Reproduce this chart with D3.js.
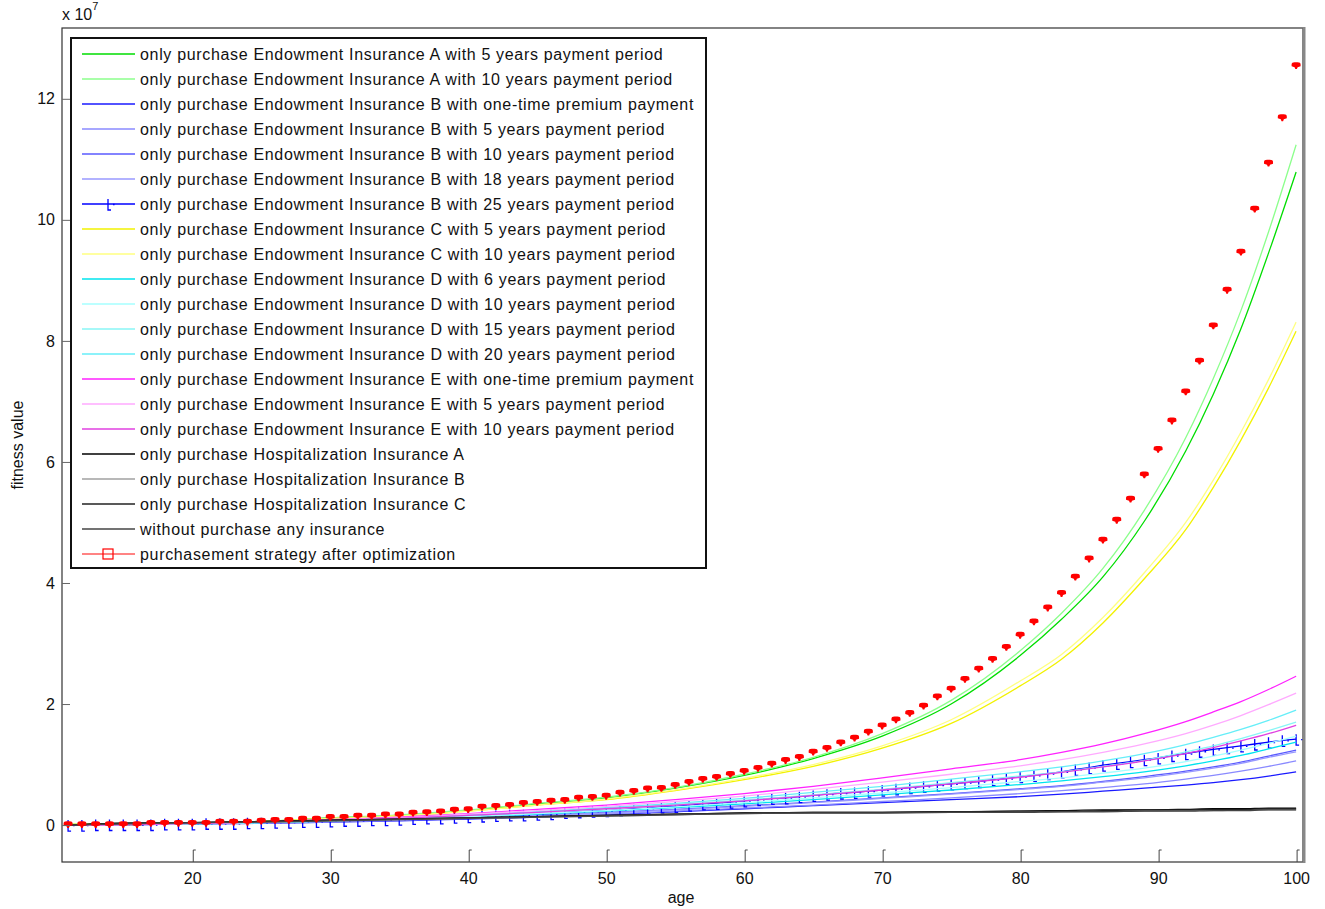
<!DOCTYPE html>
<html>
<head>
<meta charset="utf-8">
<script src="https://cdn.jsdelivr.net/npm/d3@7"></script>
<style>
  body { margin: 0; background: #fff; }
  svg { display: block; }
  text { font-family: Arial, 'Liberation Sans', sans-serif; }
</style>
</head>
<body>
<svg id="chart" width="1325" height="909"></svg>
<script>
// fitness value per age, in units of 1e7

const AGES = [11, 15, 20, 25, 30, 35, 40, 45, 50, 55, 60, 65, 70, 75, 80, 83, 86, 89, 92, 94, 96, 98, 100];
const YEARS = d3.range(11, 101);

const ENDOW_A5  = [0.01, 0.01, 0.03, 0.06, 0.12, 0.16, 0.24, 0.35, 0.45, 0.61, 0.82, 1.10, 1.47, 2.00, 2.80, 3.40, 4.10, 5.02, 6.18, 7.12, 8.20, 9.45, 10.79];
const ENDOW_A10 = [0.01, 0.01, 0.03, 0.06, 0.12, 0.17, 0.25, 0.36, 0.46, 0.62, 0.84, 1.12, 1.51, 2.06, 2.88, 3.50, 4.24, 5.20, 6.40, 7.38, 8.50, 9.80, 11.24];
const ENDOW_B1  = [0.00, 0.01, 0.02, 0.03, 0.05, 0.07, 0.10, 0.13, 0.17, 0.22, 0.27, 0.32, 0.37, 0.42, 0.47, 0.51, 0.56, 0.61, 0.66, 0.70, 0.75, 0.81, 0.88];
const ENDOW_B5  = [0.00, 0.01, 0.02, 0.03, 0.05, 0.08, 0.11, 0.14, 0.18, 0.23, 0.28, 0.33, 0.39, 0.45, 0.52, 0.57, 0.62, 0.68, 0.76, 0.82, 0.89, 0.97, 1.06];
const ENDOW_B10 = [0.00, 0.01, 0.02, 0.04, 0.06, 0.09, 0.12, 0.16, 0.21, 0.26, 0.32, 0.38, 0.45, 0.52, 0.60, 0.65, 0.72, 0.80, 0.89, 0.96, 1.04, 1.14, 1.24];
const ENDOW_B18 = [0.00, 0.01, 0.02, 0.04, 0.06, 0.09, 0.12, 0.16, 0.20, 0.25, 0.31, 0.37, 0.44, 0.51, 0.59, 0.64, 0.71, 0.78, 0.87, 0.94, 1.02, 1.12, 1.21];
const ENDOW_B25 = [0.00, 0.00, 0.01, 0.01, 0.01, 0.01, 0.01, 0.02, 0.02, 0.02, 0.03, 0.03, 0.03, 0.04, 0.04, 0.05, 0.05, 0.06, 0.06, 0.07,
                   0.08, 0.08, 0.09, 0.09, 0.10, 0.11, 0.12, 0.12, 0.13, 0.14, 0.15, 0.16, 0.17, 0.17, 0.18, 0.19, 0.21, 0.22, 0.23, 0.24,
                   0.25, 0.27, 0.28, 0.30, 0.31, 0.33, 0.35, 0.36, 0.38, 0.40, 0.42, 0.44, 0.45, 0.47, 0.49, 0.51, 0.53, 0.54, 0.56, 0.58,
                   0.60, 0.62, 0.64, 0.66, 0.68, 0.70, 0.72, 0.75, 0.77, 0.80, 0.82, 0.85, 0.88, 0.92, 0.95, 0.99, 1.02, 1.05, 1.08, 1.11,
                   1.15, 1.18, 1.22, 1.25, 1.28, 1.31, 1.34, 1.37, 1.40, 1.42];
const ENDOW_C5  = [0.01, 0.01, 0.03, 0.06, 0.11, 0.15, 0.23, 0.33, 0.42, 0.57, 0.75, 0.97, 1.27, 1.68, 2.30, 2.74, 3.34, 4.07, 4.88, 5.58, 6.36, 7.22, 8.16];
const ENDOW_C10 = [0.01, 0.01, 0.03, 0.06, 0.11, 0.15, 0.23, 0.33, 0.43, 0.58, 0.77, 1.00, 1.31, 1.74, 2.38, 2.82, 3.43, 4.17, 5.00, 5.70, 6.49, 7.36, 8.31];
const ENDOW_D6  = [0.00, 0.01, 0.02, 0.04, 0.07, 0.10, 0.14, 0.18, 0.23, 0.29, 0.35, 0.42, 0.50, 0.58, 0.67, 0.73, 0.80, 0.88, 0.98, 1.06, 1.15, 1.26, 1.37];
const ENDOW_D10 = [0.00, 0.01, 0.02, 0.04, 0.07, 0.10, 0.14, 0.19, 0.24, 0.30, 0.37, 0.45, 0.53, 0.62, 0.72, 0.78, 0.86, 0.94, 1.05, 1.14, 1.24, 1.35, 1.47];
const ENDOW_D15 = [0.00, 0.01, 0.03, 0.05, 0.08, 0.11, 0.16, 0.21, 0.27, 0.34, 0.41, 0.50, 0.59, 0.70, 0.81, 0.88, 0.97, 1.07, 1.21, 1.31, 1.43, 1.56, 1.70];
const ENDOW_D20 = [0.00, 0.01, 0.03, 0.05, 0.08, 0.12, 0.17, 0.22, 0.29, 0.36, 0.44, 0.54, 0.64, 0.76, 0.88, 0.96, 1.06, 1.18, 1.33, 1.45, 1.58, 1.73, 1.90];
const ENDOW_E1  = [0.00, 0.01, 0.03, 0.05, 0.09, 0.13, 0.19, 0.26, 0.33, 0.42, 0.52, 0.64, 0.78, 0.93, 1.08, 1.20, 1.34, 1.51, 1.71, 1.87, 2.04, 2.24, 2.46];
const ENDOW_E5  = [0.00, 0.01, 0.03, 0.05, 0.09, 0.12, 0.18, 0.24, 0.31, 0.39, 0.48, 0.59, 0.71, 0.84, 0.98, 1.08, 1.20, 1.34, 1.51, 1.65, 1.81, 1.99, 2.18];
const ENDOW_E10 = [0.00, 0.01, 0.03, 0.05, 0.08, 0.11, 0.16, 0.21, 0.27, 0.33, 0.40, 0.49, 0.58, 0.68, 0.79, 0.87, 0.96, 1.06, 1.18, 1.28, 1.39, 1.51, 1.65];
const HOSP_A    = [0.00, 0.03, 0.04, 0.06, 0.08, 0.10, 0.12, 0.14, 0.16, 0.18, 0.20, 0.21, 0.21, 0.22, 0.23, 0.24, 0.25, 0.25, 0.26, 0.27, 0.27, 0.28, 0.28];
const HOSP_B    = [0.00, 0.02, 0.04, 0.05, 0.07, 0.09, 0.11, 0.13, 0.15, 0.17, 0.19, 0.20, 0.20, 0.21, 0.22, 0.22, 0.23, 0.23, 0.24, 0.24, 0.25, 0.25, 0.25];
const HOSP_C    = [0.00, 0.03, 0.04, 0.06, 0.08, 0.10, 0.12, 0.14, 0.16, 0.18, 0.20, 0.21, 0.21, 0.22, 0.23, 0.23, 0.24, 0.25, 0.25, 0.26, 0.26, 0.27, 0.27];
const NO_INSURE = [0.00, 0.02, 0.04, 0.05, 0.07, 0.09, 0.11, 0.13, 0.15, 0.17, 0.19, 0.20, 0.20, 0.21, 0.21, 0.22, 0.22, 0.23, 0.23, 0.24, 0.24, 0.25, 0.25];

const OPTIMIZED = [0.01, 0.01, 0.01, 0.01, 0.01, 0.01, 0.03, 0.03, 0.03, 0.03, 0.03, 0.05, 0.05, 0.05, 0.07, 0.08, 0.08, 0.10, 0.10, 0.13,
                   0.13, 0.15, 0.15, 0.17, 0.17, 0.20, 0.21, 0.22, 0.25, 0.26, 0.30, 0.31, 0.33, 0.36, 0.38, 0.40, 0.41, 0.45, 0.46, 0.48,
                   0.53, 0.56, 0.60, 0.61, 0.66, 0.71, 0.76, 0.79, 0.84, 0.89, 0.94, 1.01, 1.07, 1.12, 1.21, 1.27, 1.36, 1.44, 1.54, 1.64,
                   1.74, 1.85, 1.97, 2.12, 2.25, 2.41, 2.58, 2.74, 2.94, 3.14, 3.36, 3.59, 3.83, 4.10, 4.40, 4.71, 5.04, 5.39, 5.79, 6.21,
                   6.68, 7.16, 7.67, 8.25, 8.84, 9.47, 10.18, 10.94, 11.69, 12.55];

const X_TICKS = [20, 30, 40, 50, 60, 70, 80, 90, 100];
const Y_TICKS = [0, 2, 4, 6, 8, 10, 12];

const SERIES = [
  { label: 'only purchase Endowment Insurance A with 5 years payment period',   color: '#00dd00', ages: AGES,  values: ENDOW_A5 },
  { label: 'only purchase Endowment Insurance A with 10 years payment period',  color: '#8cff8c', ages: AGES,  values: ENDOW_A10 },
  { label: 'only purchase Endowment Insurance B with one-time premium payment', color: '#1a1aff', ages: AGES,  values: ENDOW_B1 },
  { label: 'only purchase Endowment Insurance B with 5 years payment period',   color: '#8a8aff', ages: AGES,  values: ENDOW_B5 },
  { label: 'only purchase Endowment Insurance B with 10 years payment period',  color: '#5a5aff', ages: AGES,  values: ENDOW_B10 },
  { label: 'only purchase Endowment Insurance B with 18 years payment period',  color: '#9898ff', ages: AGES,  values: ENDOW_B18 },
  { label: 'only purchase Endowment Insurance B with 25 years payment period',  color: '#0000ff', ages: YEARS, values: ENDOW_B25, marker: 'tick' },
  { label: 'only purchase Endowment Insurance C with 5 years payment period',   color: '#f2f200', ages: AGES,  values: ENDOW_C5 },
  { label: 'only purchase Endowment Insurance C with 10 years payment period',  color: '#ffff80', ages: AGES,  values: ENDOW_C10 },
  { label: 'only purchase Endowment Insurance D with 6 years payment period',   color: '#00e4ee', ages: AGES,  values: ENDOW_D6 },
  { label: 'only purchase Endowment Insurance D with 10 years payment period',  color: '#a6ffff', ages: AGES,  values: ENDOW_D10 },
  { label: 'only purchase Endowment Insurance D with 15 years payment period',  color: '#88f6f6', ages: AGES,  values: ENDOW_D15 },
  { label: 'only purchase Endowment Insurance D with 20 years payment period',  color: '#66eef8', ages: AGES,  values: ENDOW_D20 },
  { label: 'only purchase Endowment Insurance E with one-time premium payment', color: '#ff22ff', ages: AGES,  values: ENDOW_E1 },
  { label: 'only purchase Endowment Insurance E with 5 years payment period',   color: '#ffaaff', ages: AGES,  values: ENDOW_E5 },
  { label: 'only purchase Endowment Insurance E with 10 years payment period',  color: '#e040e0', ages: AGES,  values: ENDOW_E10 },
  { label: 'only purchase Hospitalization Insurance A',                         color: '#000000', ages: AGES,  values: HOSP_A },
  { label: 'only purchase Hospitalization Insurance B',                         color: '#a0a0a0', ages: AGES,  values: HOSP_B },
  { label: 'only purchase Hospitalization Insurance C',                         color: '#222222', ages: AGES,  values: HOSP_C },
  { label: 'without purchase any insurance',                                    color: '#444444', ages: AGES,  values: NO_INSURE },
  { label: 'purchasement strategy after optimization',                          color: '#ff0000', ages: YEARS, values: OPTIMIZED, marker: 'blob' },
];

const MARKER_TICK = 'M0,-5V6H3M5,0.5h1.6';
const MARKER_BLOB = 'M-4.5,-1Q-4.5,-3.2 -1.5,-3.2L1.5,-3.2Q4.5,-3.2 4.5,-1L4.5,0.8L1.5,1.8L0.8,3.6L-0.8,3.6L-1.5,1.8L-4.5,0.8Z';

const svg = d3.select('#chart');
const plot = { left: 62, right: 1303, top: 28, bottom: 862 };

const x = d3.scaleLinear().domain([10.56, 100.5]).range([plot.left, plot.right]);
const y = d3.scaleLinear().domain([-0.61, 13.17]).range([plot.bottom, plot.top]);

svg.append('defs').append('clipPath').attr('id', 'clip')
  .append('rect')
  .attr('x', plot.left).attr('y', plot.top)
  .attr('width', plot.right - plot.left).attr('height', plot.bottom - plot.top);

const marks = svg.append('g').attr('clip-path', 'url(#clip)');

// Lines
SERIES.forEach(s => {
  const pts = s.ages.map((a, i) => [a, s.values[i]]);
  if (s.marker === 'blob') return; // marker-only series, drawn last
  const line = d3.line()
    .x(d => x(d[0]))
    .y(d => y(d[1]))
    .curve(s.ages === AGES ? d3.curveMonotoneX : d3.curveLinear);
  marks.append('path')
    .datum(pts)
    .attr('fill', 'none')
    .attr('stroke', s.color)
    .attr('stroke-width', 1.3)
    .attr('d', line);

  if (s.marker === 'tick') {
    marks.append('g').selectAll('path')
      .data(pts)
      .join('path')
      .attr('transform', d => `translate(${x(d[0])},${y(d[1])})`)
      .attr('d', MARKER_TICK)
      .attr('fill', 'none')
      .attr('stroke', s.color)
      .attr('stroke-width', 1.3);
  }
});

// Optimized strategy markers on top
const opt = SERIES[SERIES.length - 1];
marks.append('g').selectAll('path')
  .data(opt.ages.map((a, i) => [a, opt.values[i]]))
  .join('path')
  .attr('transform', d => `translate(${x(d[0])},${y(d[1])})`)
  .attr('d', MARKER_BLOB)
  .attr('fill', opt.color);

// Axes frame
svg.append('rect')
  .attr('x', plot.left).attr('y', plot.top)
  .attr('width', plot.right - plot.left).attr('height', plot.bottom - plot.top)
  .attr('fill', 'none')
  .attr('stroke', '#333')
  .attr('stroke-width', 1.2);
svg.append('line')
  .attr('x1', plot.right + 1).attr('x2', plot.right + 1)
  .attr('y1', plot.top - 1).attr('y2', plot.bottom + 1)
  .attr('stroke', '#888')
  .attr('stroke-width', 3);

// Y axis
const yAxis = svg.append('g')
  .attr('transform', `translate(${plot.left},0)`)
  .call(d3.axisLeft(y).tickValues(Y_TICKS).tickSize(-8).tickPadding(7).tickFormat(d3.format('d')));
yAxis.select('.domain').remove();
yAxis.selectAll('.tick line').attr('stroke', '#666');
yAxis.selectAll('.tick text')
  .attr('font-size', 16)
  .attr('font-family', 'Arial, Liberation Sans, sans-serif')
  .attr('fill', '#111');

// X axis
const xAxis = svg.append('g')
  .attr('transform', `translate(0,${plot.bottom})`)
  .call(d3.axisBottom(x).tickValues(X_TICKS).tickSize(0).tickPadding(11).tickFormat(d3.format('d')));
xAxis.select('.domain').remove();
xAxis.selectAll('.tick').append('path')
  .attr('d', 'M0.5,0V-12h2.5')
  .attr('fill', 'none')
  .attr('stroke', '#444');
xAxis.selectAll('.tick text')
  .attr('font-size', 16)
  .attr('font-family', 'Arial, Liberation Sans, sans-serif')
  .attr('fill', '#111');

// Exponent label
const expo = svg.append('text')
  .attr('x', 62).attr('y', 20)
  .attr('font-size', 16)
  .attr('fill', '#111');
expo.append('tspan').text('x 10');
expo.append('tspan').attr('font-size', 11).attr('dy', -10).text('7');

// Axis titles
svg.append('text')
  .attr('x', 681).attr('y', 903)
  .attr('text-anchor', 'middle')
  .attr('font-size', 16)
  .attr('fill', '#111')
  .text('age');
svg.append('text')
  .attr('transform', 'translate(23,445) rotate(-90)')
  .attr('text-anchor', 'middle')
  .attr('font-size', 16)
  .attr('fill', '#111')
  .text('fitness value');

// Legend
const legend = svg.append('g');
legend.append('rect')
  .attr('x', 71).attr('y', 38)
  .attr('width', 635).attr('height', 530)
  .attr('fill', '#fff')
  .attr('stroke', '#111')
  .attr('stroke-width', 2);

SERIES.forEach((s, i) => {
  const cy = 54 + i * 25;
  const g = legend.append('g').attr('transform', `translate(0,${cy})`);
  g.append('line')
    .attr('x1', 82).attr('x2', 135)
    .attr('y1', 0).attr('y2', 0)
    .attr('stroke', s.marker === 'blob' ? '#ff5a5a' : s.color)
    .attr('stroke-width', 1.5);
  if (s.marker === 'tick') {
    g.append('path')
      .attr('transform', 'translate(108,0)')
      .attr('d', MARKER_TICK)
      .attr('fill', 'none')
      .attr('stroke', s.color)
      .attr('stroke-width', 1.3);
  }
  if (s.marker === 'blob') {
    g.append('rect')
      .attr('x', 103).attr('y', -5)
      .attr('width', 10).attr('height', 10)
      .attr('fill', 'none')
      .attr('stroke', s.color)
      .attr('stroke-width', 1.2);
  }
  g.append('text')
    .attr('x', 140).attr('y', 0)
    .attr('dy', '0.35em')
    .attr('font-size', 16)
    .attr('letter-spacing', '0.67px')
    .attr('fill', '#111')
    .text(s.label);
});
</script>
</body>
</html>
